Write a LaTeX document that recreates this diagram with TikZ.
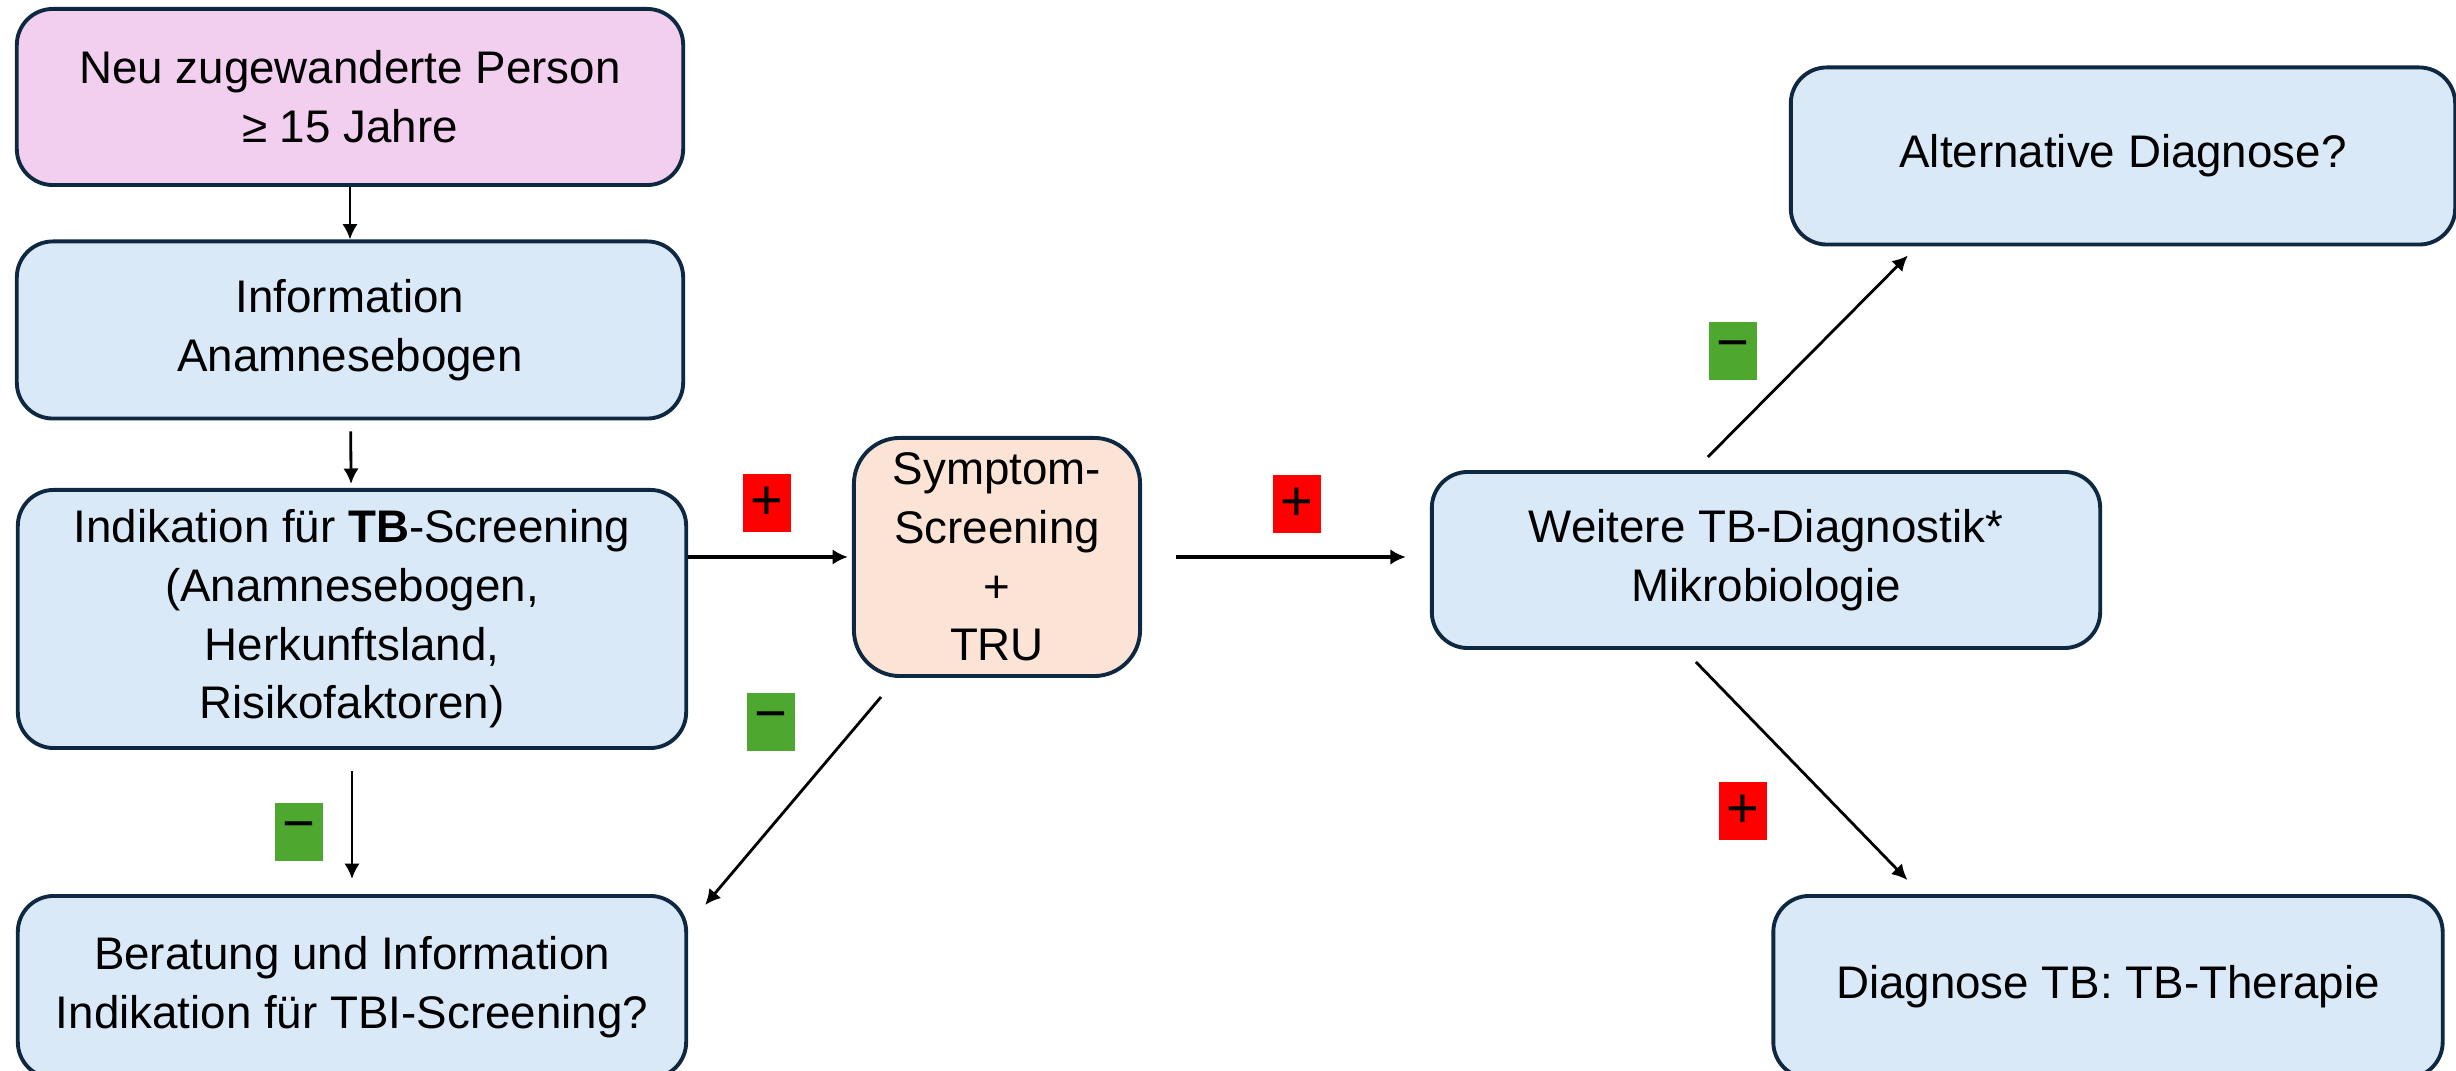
\documentclass[tikz,border=0pt]{standalone}
\usepackage{fontspec}
\setmainfont{Liberation Sans}
\usetikzlibrary{shapes,%
	positioning,%
	arrows.meta%
}
\definecolor{rahmen}{HTML}{0E2841}
\definecolor{rosa}{HTML}{F2CEEF}
\definecolor{hellblau}{HTML}{DAE9F7}
\definecolor{pfirsich}{HTML}{FBE3D6}
\definecolor{plusrot}{HTML}{FF0000}
\definecolor{minusgruen}{HTML}{4EA72E}

\begin{document}
\begin{tikzpicture}[x=0.01cm, y=-0.01cm, >={Latex[length=4.4pt,width=4.4pt]},
	font=\fontsize{13pt}{16.7pt}\selectfont]
	\clip (0,0) rectangle (2456,1071);
	\begin{scope}[every node/.style={rectangle, rounded corners=0.36cm, draw=rahmen,
		line width=1.1pt, align=center, inner sep=0pt}]
	\node[fill=rosa, minimum width=6.66cm, minimum height=1.76cm] (A) at (350,97) {Neu zugewanderte Person\\≥ 15 Jahre};
	\node[fill=hellblau, minimum width=6.66cm, minimum height=1.77cm] (B) at (350,330) {Information\\Anamnesebogen};
	\node[fill=hellblau, minimum width=6.68cm, minimum height=2.58cm] (C) at (352,619) {Indikation für \textbf{TB}-Screening\\(Anamnesebogen,\\Herkunftsland,\\Risikofaktoren)};
	\node[fill=hellblau, minimum width=6.68cm, minimum height=1.82cm] (D) at (352,987) {Beratung und Information\\Indikation für TBI-Screening?};
	\node[fill=pfirsich, rounded corners=0.46cm, minimum width=2.86cm, minimum height=2.38cm] (S) at (997,557) {Symptom-\\Screening\\+\\TRU};
	\node[fill=hellblau, minimum width=6.68cm, minimum height=1.76cm] (W) at (1766,560) {Weitere TB-Diagnostik*\\Mikrobiologie};
	\node[fill=hellblau, minimum width=6.64cm, minimum height=1.77cm] (AL) at (2123,156) {Alternative Diagnose?};
	\node[fill=hellblau, minimum width=6.69cm, minimum height=1.82cm] (TH) at (2108,987) {Diagnose TB: TB-Therapie};
	\end{scope}
	% Vorzeichen
	\begin{scope}[every node/.style={rectangle, inner sep=0pt, minimum width=0.47cm,
		minimum height=0.57cm, font=\fontsize{16pt}{16pt}\selectfont}]
	\node[fill=plusrot] (P1) at (767,503) {+};
	\node[fill=plusrot] (P2) at (1297,504) {+};
	\node[fill=plusrot] (P3) at (1743,811) {+};
	\node[fill=minusgruen] (M1) at (771,722) {−};
	\node[fill=minusgruen] (M2) at (299,832) {−};
	\node[fill=minusgruen] (M3) at (1733,351) {−};
	\end{scope}
	\begin{scope}[every path/.style={draw=black, line width=0.8pt}]
	\path [->] (A) -- (B);
	\path [->, shorten <=0.11cm, shorten >=0.04cm] (B) -- (C);
	\path [->, shorten <=0.21cm, shorten >=0.15cm] (C) -- (D);
	\path [->] ([shift={(29,19)}]S.south west) -- ([shift={(17,11)}]D.north east);
	\path [->] ([shift={(278,-13)}]W.north west) -- ([shift={(119,9)}]AL.south west);
	\path [->] ([shift={(266,12)}]W.south west) -- ([shift={(136,-14)}]TH.north west);
	\end{scope}
	\begin{scope}[every path/.style={draw=black, line width=1.2pt}]
	\path [->, shorten >=0.04cm] (C.east |- S.west) -- (S.west);
	\path [->, shorten <=0.34cm, shorten >=0.24cm] (S.east) -- (W.west |- S.east);
	\end{scope}
\end{tikzpicture}
\end{document}
